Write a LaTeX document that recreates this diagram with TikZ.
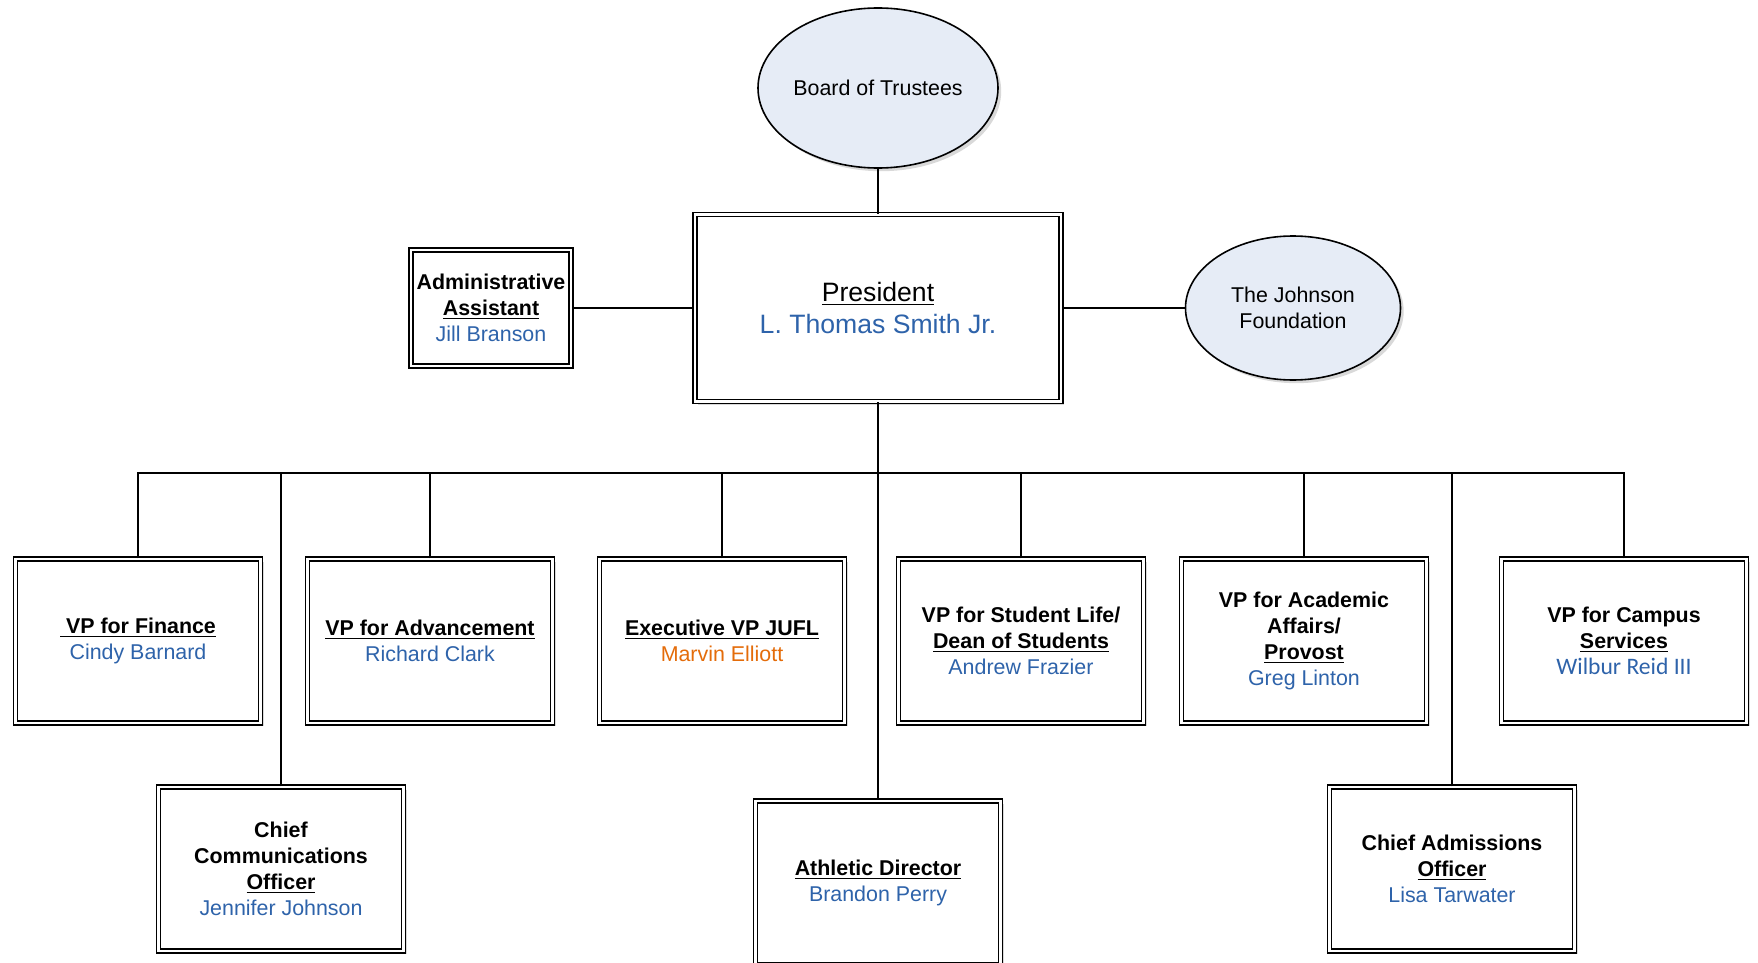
\documentclass[tikz,border=0pt]{standalone}
\usepackage{fontspec}
\setmainfont{Liberation Sans}
\newfontfamily\calib{Carlito}
\usetikzlibrary{shapes.geometric, shadows}

\definecolor{namecol}{RGB}{46,99,170}
\definecolor{execcol}{RGB}{228,108,10}
\definecolor{ovalfill}{RGB}{230,236,246}

\newcommand{\who}[1]{\textcolor{namecol}{#1}}
\newcommand{\post}[1]{\underline{\textbf{#1}}}

\begin{document}
\begin{tikzpicture}[
    x=0.5pt, y=-0.5pt,
    every node/.style={font={\fontsize{10.7}{12.9}\selectfont}, align=center},
    postbox/.style={draw, double, double distance=1.4pt, line width=0.75pt, fill=white, inner sep=0pt,
        drop shadow={shadow xshift=1.6pt, shadow yshift=-1.6pt, opacity=0.3}},
    vpbox/.style={postbox, minimum width=122.5pt, minimum height=82pt},
    oval/.style={ellipse, draw, line width=0.8pt, fill=ovalfill, inner sep=0pt,
        drop shadow={shadow xshift=1.6pt, shadow yshift=-1.6pt, opacity=0.3}},
    conn/.style={line width=0.75pt}
]
    \useasboundingbox (0,0) rectangle (1758,963);

    % top level
    \node (board) [oval, minimum width=120pt, minimum height=80pt] at (878,88) {Board of Trustees};
    \node (pres) [postbox, minimum width=183pt, minimum height=93.5pt, font={\fontsize{13.3}{16.3}\selectfont}]
        at (878,308) {\underline{President}\\ \who{L. Thomas Smith Jr.}};
    \node (admin) [postbox, minimum width=80pt, minimum height=58pt] at (491,308)
        {\textbf{Administrative}\\ \post{Assistant}\\ \who{Jill Branson}};
    \node (found) [oval, minimum width=107.5pt, minimum height=72pt] at (1293,308) {The Johnson\\ Foundation};

    % vice presidents
    \node (fin) [vpbox] at (138,641) {\post{\ VP for Finance}\\ \who{Cindy Barnard}};
    \node (adv) [vpbox] at (430,641) {\post{VP for Advancement}\\ \who{Richard Clark}};
    \node (exec) [vpbox] at (722,641) {\post{Executive VP JUFL}\\ \textcolor{execcol}{Marvin Elliott}};
    \node (stud) [vpbox] at (1021,641)
        {\textbf{VP for Student Life/}\\ \post{Dean of Students}\\ \who{Andrew Frazier}};
    \node (acad) [vpbox] at (1304,641)
        {\textbf{VP for Academic}\\ \textbf{Affairs/}\\ \post{Provost}\\ \who{Greg Linton}};
    \node (camp) [vpbox] at (1624,641)
        {\textbf{VP for Campus}\\ \post{Services}\\ {\calib\fontsize{11.8}{12.9}\selectfont\who{Wilbur Reid III}}};

    % second row
    \node (comm) [vpbox] at (281,869)
        {\textbf{Chief}\\ \textbf{Communications}\\ \post{Officer}\\ \who{Jennifer Johnson}};
    \node (athl) [vpbox] at (878,883) {\post{Athletic Director}\\ \who{Brandon Perry}};
    \node (adm) [vpbox] at (1452,869) {\textbf{Chief Admissions}\\ \post{Officer}\\ \who{Lisa Tarwater}};

    \coordinate (bus) at (878,473);

    \draw [conn] (board) -- (pres);
    \draw [conn] (admin) -- (pres);
    \draw [conn] (pres) -- (found);
    \draw [conn] (pres) -- (athl);
    \foreach \n in {fin,adv,exec,stud,acad,camp,comm,adm}
        \draw [conn] (\n.north) |- (bus);
\end{tikzpicture}
\end{document}
